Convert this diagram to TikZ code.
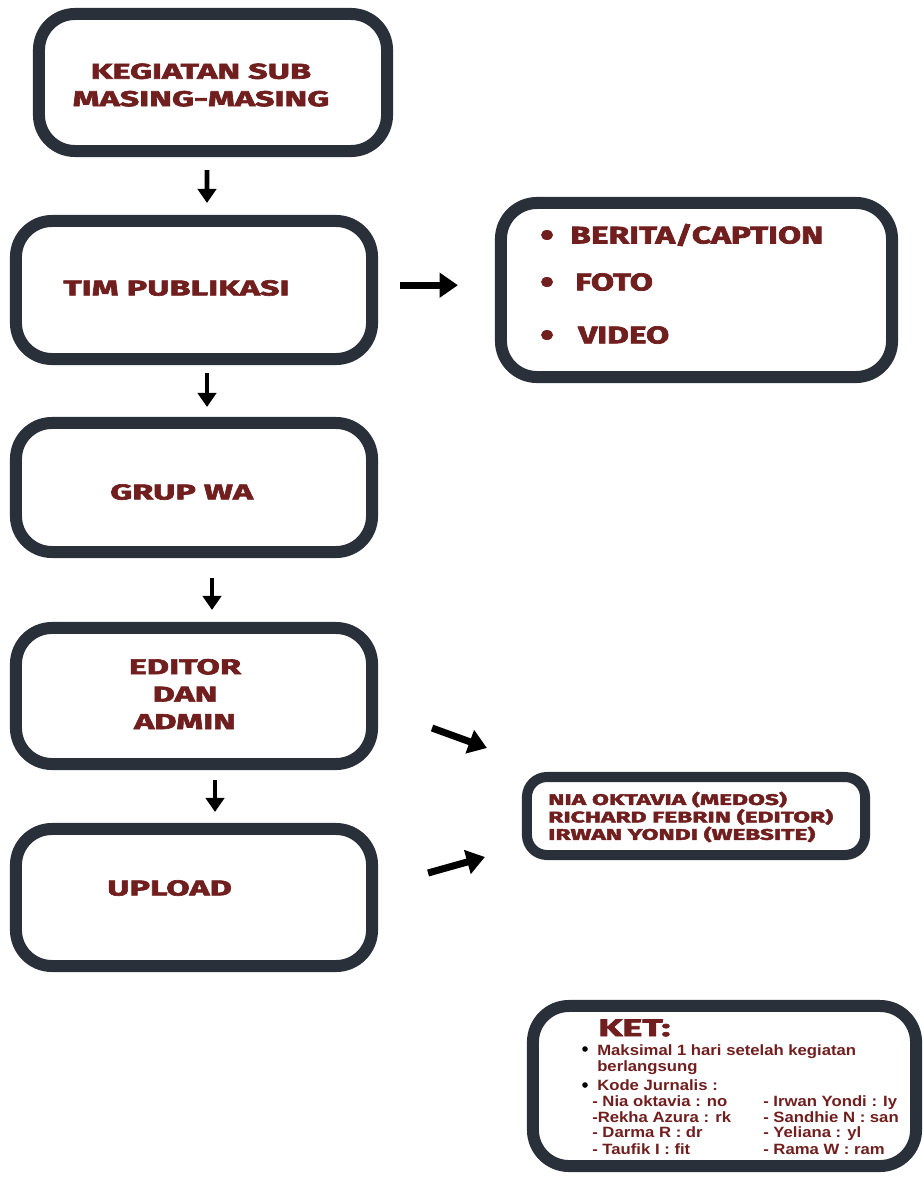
\documentclass[tikz,border=0pt]{standalone}
\usepackage{fontspec}
\setmainfont{Fira Sans}
\newfontfamily\headfont{Fira Sans}[FakeStretch=1.6, BoldFeatures={FakeBold=3}]
\newfontfamily\itemfont{Fira Sans}[FakeStretch=1.4, BoldFeatures={FakeBold=3}]
\newfontfamily\ketfont{Liberation Sans}[FakeStretch=1.12]
\usetikzlibrary{positioning,calc,arrows.meta}
\definecolor{boxline}{RGB}{41,48,58}
\definecolor{textred}{RGB}{112,30,30}

\begin{document}
\begin{tikzpicture}[x=0.025cm, y=-0.025cm,
    box/.style={draw=boxline, line width=0.3cm, rounded corners=0.9cm, fill=white, inner sep=0pt},
    head/.style={font=\headfont\bfseries\fontsize{15.2}{19.5}\selectfont, text=textred, align=center, inner sep=0pt},
    ket/.style={font=\ketfont\bfseries\fontsize{10.6}{10.8}\selectfont, text=textred, align=left, inner sep=0pt, anchor=base west},
    flow/.style={line width=3.5pt, -{Triangle[length=10pt,width=13pt]}},
    bigflow/.style={line width=5pt, -{Triangle[length=13pt,width=17pt]}}
]
    \fill [white] (0,0) rectangle (922,1177);

    % Boxes
    \node [box, minimum width=8.7cm, minimum height=3.425cm] (kegiatan) at (213,82.5) {};
    \node [box, minimum width=8.9cm, minimum height=3.45cm] (timpub) at (194,290) {};
    \node [box, minimum width=8.9cm, minimum height=3.225cm] (grupwa) at (194,487.5) {};
    \node [box, minimum width=8.9cm, minimum height=3.4cm] (editor) at (194,696) {};
    \node [box, minimum width=8.9cm, minimum height=3.425cm] (upload) at (194,897.5) {};
    \node [box, minimum width=9.775cm, minimum height=4.35cm] (media) at (696.5,290) {};
    \node [box, line width=0.25cm, rounded corners=0.5cm, minimum width=8.45cm, minimum height=1.95cm] (team) at (696,816) {};
    \node [box, minimum width=9.575cm, minimum height=4cm] (ket) at (724.5,1086) {};

    % Box texts
    \node [head] (tkeg) at (201,85) {KEGIATAN SUB\\MASING-MASING};
    \node [head, anchor=west] (ttim) at (63,288) {TIM PUBLIKASI};
    \node [head, anchor=west] (tgrup) at (110,492) {GRUP WA};
    \node [head] (tedit) at (185,694) {EDITOR\\DAN\\ADMIN};
    \node [head, anchor=west] (tup) at (107,888) {UPLOAD};

    % Media items
    \foreach \y/\x/\item [count=\i] in {235/570/{BERITA/CAPTION}, 282/575/FOTO, 335/578/VIDEO} {
        \fill [textred] (547,\y) ellipse (6 and 5);
        \node [head, anchor=west, font=\itemfont\bfseries\fontsize{17}{20}\selectfont] (item\i) at (\x,\y) {\item};
    }

    \node [head, anchor=west, align=left, font=\headfont\bfseries\fontsize{10.9}{12.4}\selectfont] (tteam) at (548,817)
        {NIA OKTAVIA (MEDOS)\\RICHARD FEBRIN (EDITOR)\\IRWAN YONDI (WEBSITE)};

    % Keterangan
    \node [head, anchor=west, font=\headfont\bfseries\fontsize{16.9}{20}\selectfont] (tket) at (598,1028) {KET:};
    \fill (585,1049) circle (2.8);
    \node [ket] (tmaks) at (597,1071) {Maksimal 1 hari setelah kegiatan\\berlangsung};
    \fill (585,1085) circle (2.8);
    \node [ket] (tkode) at (597,1090) {Kode Jurnalis :};
    \foreach \y/\codeA/\codeB [count=\i] in {1106/{- Nia oktavia : no}/{- Irwan Yondi : Iy},
        1122/{-Rekha Azura : rk}/{- Sandhie N : san}, 1137/{- Darma R : dr}/{- Yeliana : yl},
        1154/{- Taufik I : fit}/{- Rama W : ram}} {
        \node [ket] (kl\i) at (592,\y) {\codeA};
        \node [ket] (kr\i) at (763,\y) {\codeB};
    }

    % Arrows
    \draw [flow, shorten <=0.325cm, shorten >=0.3cm] ([xshift=-0.15cm]kegiatan.south) -- ([xshift=0.325cm]timpub.north);
    \draw [flow, shorten <=0.2cm, shorten >=0.25cm] ([xshift=0.325cm]timpub.south) -- ([xshift=0.325cm]grupwa.north);
    \draw [flow, shorten <=0.5cm, shorten >=0.3cm] ([xshift=0.45cm]grupwa.south) -- ([xshift=0.45cm]editor.north);
    \draw [flow, shorten <=0.25cm, shorten >=0.275cm] ([xshift=0.525cm]editor.south) -- ([xshift=0.525cm]upload.north);
    \draw [bigflow, shorten <=0.55cm, shorten >=0.925cm] ([yshift=0.12cm]timpub.east) -- ([yshift=0.12cm]media.west);
    \draw [bigflow] ([xshift=1.35cm,yshift=-0.8cm]editor.east) -- ([xshift=-0.875cm,yshift=1.7cm]team.west);
    \draw [bigflow] ([xshift=1.25cm,yshift=0.6125cm]upload.east) -- ([xshift=-0.925cm,yshift=-1.025cm]team.west);
\end{tikzpicture}
\end{document}
